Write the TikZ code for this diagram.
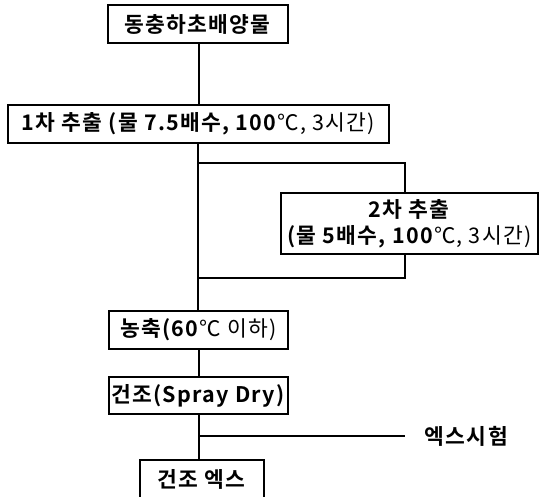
\documentclass[tikz,border=0pt]{standalone}
\usepackage{fontspec}
\setmainfont{Noto Sans CJK KR}[BoldFont={Noto Sans CJK KR Bold}, LetterSpace=6]
\begin{document}
\begin{tikzpicture}[x=1pt,y=1pt,
  box/.style={draw, line width=2.2pt, rectangle, inner sep=0pt, font=\fontsize{21.5}{26}\selectfont, align=center},
  conn/.style={line width=2.2pt}]
\useasboundingbox (0,0) rectangle (540,-496);
\clip (0,0) rectangle (540,-496);
\fill[white] (0,0) rectangle (540,-496);
\node[box, minimum width=180, minimum height=38] (n1) at (198,-24) {\textbf{동충하초배양물}};
\node[box, minimum width=381, minimum height=38] (n2) at (198.5,-124) {\textbf{1차 추출 (물 7.5배수, 100}℃, 3시간)};
\node[box, minimum width=257, minimum height=61] (n3) at (409.5,-223.5) {\textbf{2차 추출}\\\textbf{(물 5배수, 100}℃, 3시간)};
\node[box, minimum width=179, minimum height=38] (n4) at (198.5,-330) {\textbf{농축(60}℃ 이하)};
\node[box, minimum width=179, minimum height=37] (n5) at (198.5,-395.5) {\textbf{건조(Spray Dry)}};
\node[box, minimum width=124, minimum height=38] (n6) at (202,-479) {\textbf{건조 엑스}};
\node[font=\fontsize{21.5}{26}\selectfont] (t1) at (467,-436) {\textbf{엑스시험}};
\coordinate (a1) at (198,-163);
\coordinate (a2) at (405,-163);
\coordinate (b1) at (198,-278);
\coordinate (b2) at (405,-278);
\coordinate (c1) at (199,-436);
\coordinate (c2) at (405,-436);
\draw[conn] (n1.south -| 199,0) -- (n2.north -| 199,0);
\draw[conn] (n2.south -| 198,0) -- (n4.north -| 198,0);
\draw[conn] (a1) -- (a2) -- (n3.north -| a2);
\draw[conn] (n3.south -| b2) -- (b2) -- (b1);
\draw[conn] (n4.south -| 199,0) -- (n5.north -| 199,0);
\draw[conn] (n5.south -| 199,0) -- (n6.north -| 199,0);
\draw[conn] (c1) -- (c2);
\end{tikzpicture}
\end{document}
